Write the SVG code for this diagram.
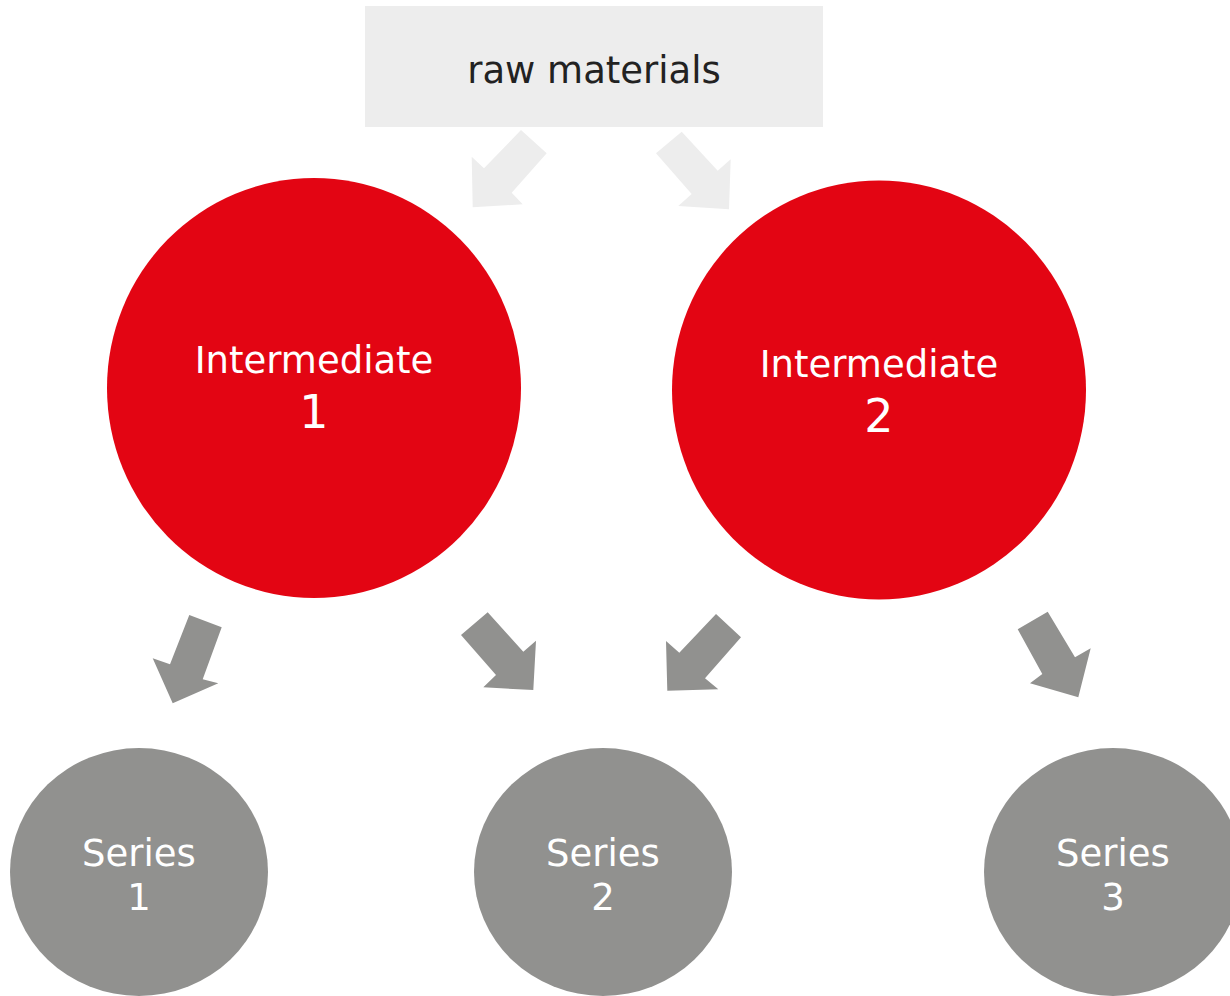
<svg xmlns="http://www.w3.org/2000/svg" width="1230" height="996" viewBox="0 0 1230 996">
<style>
text{font-family:"DejaVu Sans","Noto Sans",sans-serif;text-anchor:middle}
.lbl{fill:#ffffff;font-size:37px}
.big{fill:#ffffff;font-size:46px}
.red{fill:#e30513}
.gray{fill:#91918f}
.arrL{fill:#ededed}
.arrD{fill:#91918f}
</style>
<rect width="1230" height="996" fill="#ffffff"/>
<g id="connectors">
<polygon class="arrL" points="521,130 546.7,153.3 511.7,192.7 522.7,204.3 472.7,207.3 471.7,156.7 484,168.3"/>
<polygon class="arrL" points="681.7,131.7 656,153.3 691.7,194 678.3,206 729,209.3 730.7,159.3 717.7,170.7"/>
<polygon class="arrD" points="189.3,615 221.7,627.3 202.7,679.3 218.3,683.3 172.7,703.3 152.7,658.3 170,664.3"/>
<polygon class="arrD" points="487.7,612.3 461,635 496,675 483.3,687.3 533.3,690 536,640.7 523.3,651.7"/>
<polygon class="arrD" points="716,614 741,637.3 705,678.3 718.3,689.3 667.3,690.7 666,641 679.3,652.7"/>
<polygon class="arrD" points="1047.7,611.7 1017.7,629.3 1042.3,674 1030,683.3 1078.3,697.3 1090.7,648.3 1075,657.3"/>
</g>
<g id="raw-materials">
<rect x="365" y="6" width="458" height="121" fill="#ededed"/>
<text x="594" y="83" font-size="37" fill="#222222">raw materials</text>
</g>
<g id="intermediate-1">
<ellipse class="red" cx="314" cy="388" rx="207" ry="210"/>
<text class="lbl" x="314" y="373">Intermediate</text>
<text class="big" x="314" y="428">1</text>
</g>
<g id="intermediate-2">
<ellipse class="red" cx="879" cy="390" rx="207" ry="209.5"/>
<text class="lbl" x="879" y="376.5">Intermediate</text>
<text class="big" x="879" y="432">2</text>
</g>
<g id="series-1">
<ellipse class="gray" cx="139" cy="872" rx="129" ry="124"/>
<text class="lbl" x="139" y="866">Series</text>
<text class="lbl" x="139" y="910">1</text>
</g>
<g id="series-2">
<ellipse class="gray" cx="603" cy="872" rx="129" ry="124"/>
<text class="lbl" x="603" y="866">Series</text>
<text class="lbl" x="603" y="910">2</text>
</g>
<g id="series-3">
<ellipse class="gray" cx="1113" cy="872" rx="129" ry="124"/>
<text class="lbl" x="1113" y="866">Series</text>
<text class="lbl" x="1113" y="910">3</text>
</g>
</svg>
